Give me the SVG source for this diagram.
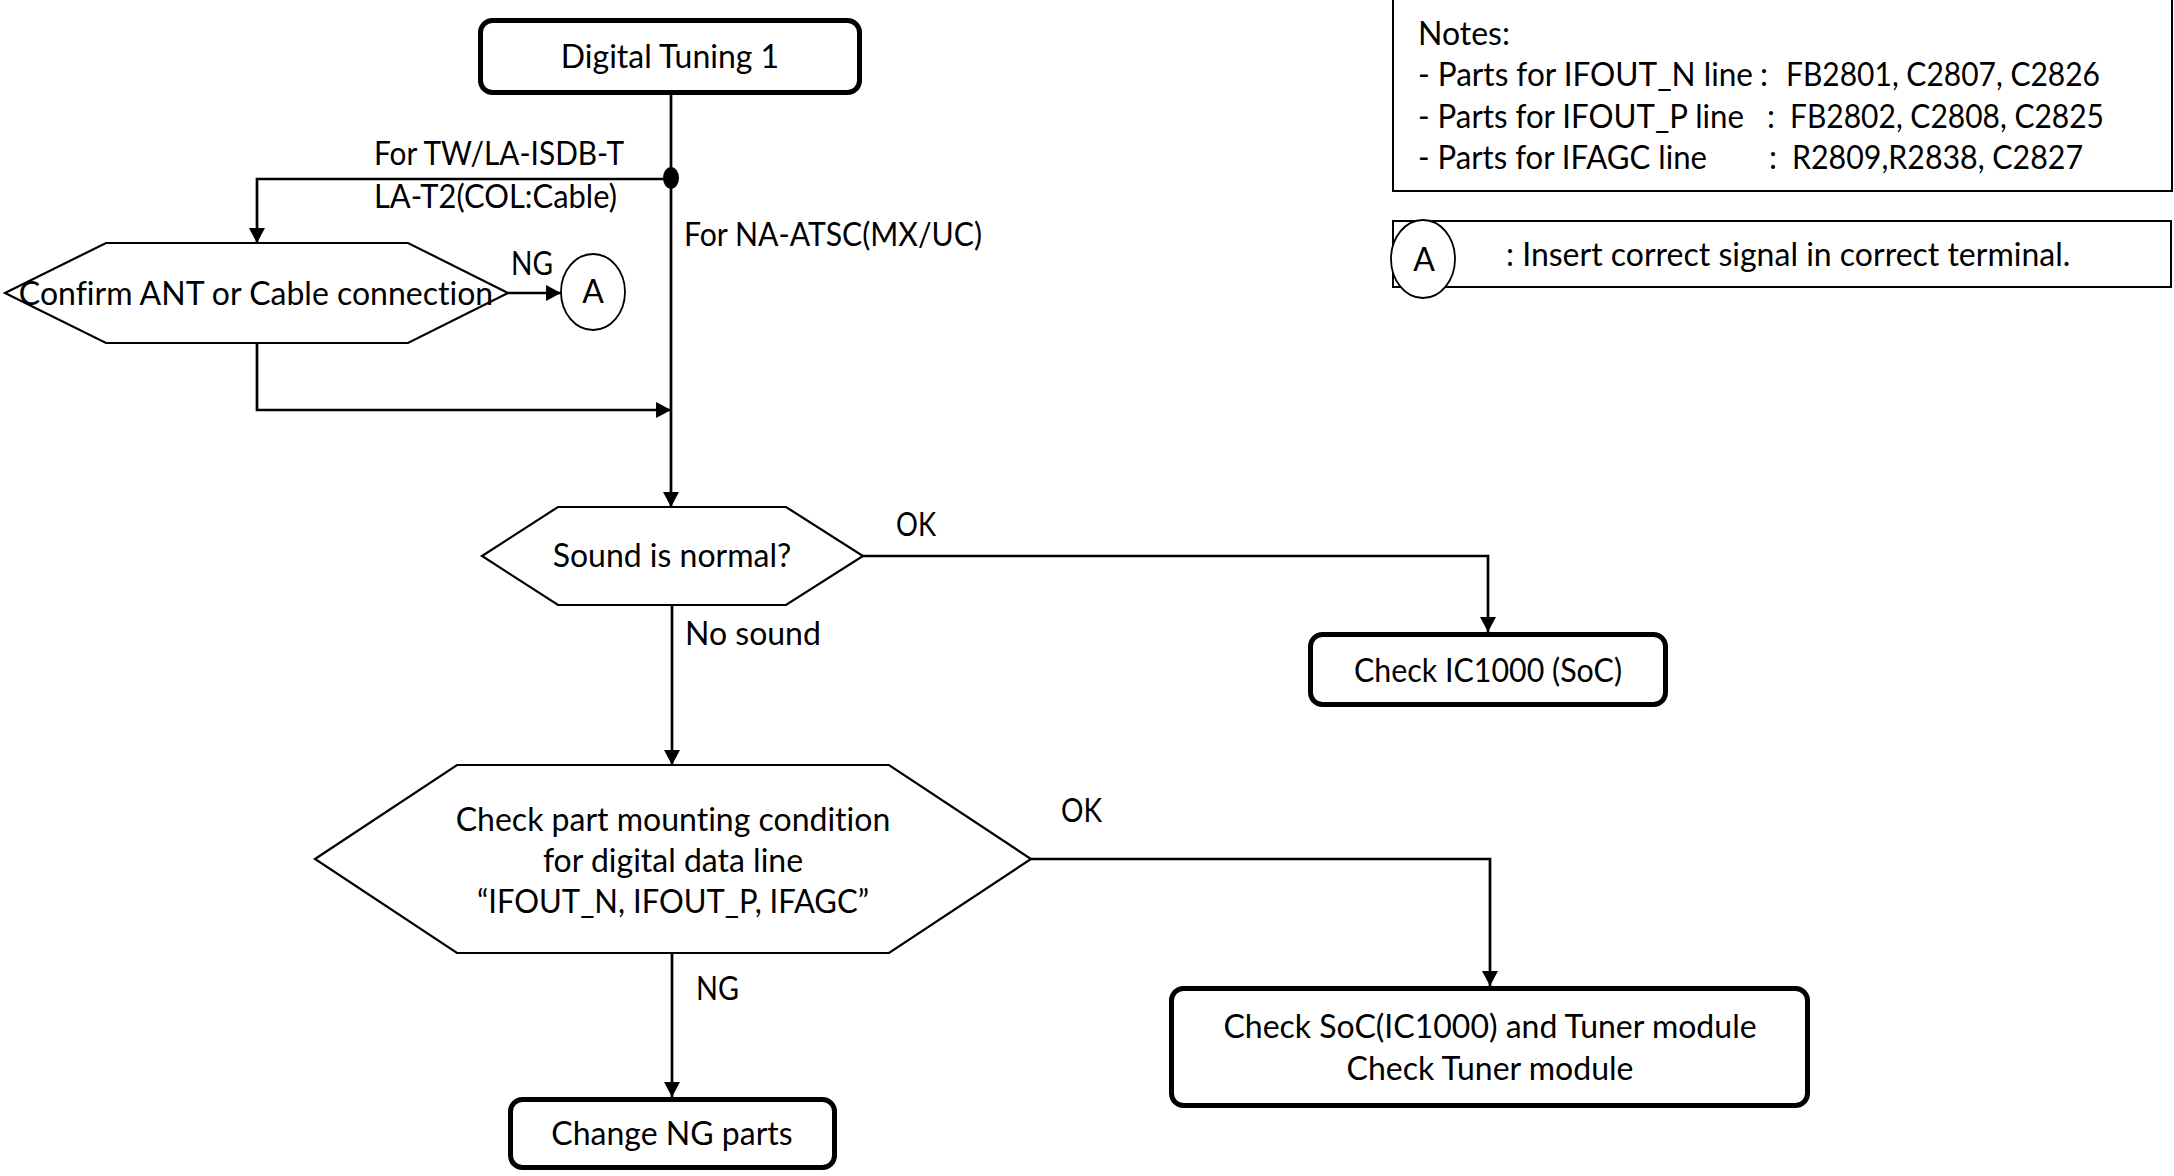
<svg xmlns="http://www.w3.org/2000/svg" width="2174" height="1176" viewBox="0 0 2174 1176">
  <defs>
    <marker id="arrow" markerUnits="userSpaceOnUse" markerWidth="16" markerHeight="16" viewBox="0 0 14 15" refX="14" refY="7.5" orient="auto">
      <path d="M0,0 L14,7.5 L0,15 Z" fill="#000"/>
    </marker>
    <style>
      text { font-family: Lato, Carlito, "Liberation Sans", sans-serif; font-size: 32px; fill: #000; font-variant-ligatures: none; }
      .c { text-anchor: middle; }
      .term { fill: #fff; stroke: #000; stroke-width: 5; }
      .hex { fill: #fff; stroke: #000; stroke-width: 2.2; stroke-linejoin: miter; }
      .conn { fill: none; stroke: #000; stroke-width: 2.7; }
      .frame { fill: #fff; stroke: #000; stroke-width: 2; }
      .ref { fill: #fff; stroke: #000; stroke-width: 1.8; }
    </style>
  </defs>
  <rect width="2174" height="1176" fill="#fff"/>

  <!-- connectors -->
  <g id="connectors">
    <path class="conn" d="M671,95 V507" marker-end="url(#arrow)"/>
    <path class="conn" d="M671,179 H257 V243" marker-end="url(#arrow)"/>
    <path class="conn" d="M257,343 V410 H671" marker-end="url(#arrow)"/>
    <path class="conn" d="M508,293 H561" marker-end="url(#arrow)"/>
    <path class="conn" d="M863,556 H1488 V632" marker-end="url(#arrow)"/>
    <path class="conn" d="M672,605 V765" marker-end="url(#arrow)"/>
    <path class="conn" d="M1031,859 H1490 V986" marker-end="url(#arrow)"/>
    <path class="conn" d="M672,953 V1097" marker-end="url(#arrow)"/>
    <ellipse cx="671" cy="178" rx="8" ry="11" fill="#000"/>
    <text x="374" y="165" textLength="250" lengthAdjust="spacingAndGlyphs">For TW/LA-ISDB-T</text>
    <text x="374" y="208" textLength="243" lengthAdjust="spacingAndGlyphs">LA-T2(COL:Cable)</text>
    <text x="684" y="246" textLength="298" lengthAdjust="spacingAndGlyphs">For NA-ATSC(MX/UC)</text>
    <text x="511" y="275" textLength="42" lengthAdjust="spacingAndGlyphs">NG</text>
    <text x="896" y="536" textLength="40" lengthAdjust="spacingAndGlyphs">OK</text>
    <text x="685" y="645">No sound</text>
    <text x="1061" y="822" textLength="41" lengthAdjust="spacingAndGlyphs">OK</text>
    <text x="696" y="1000" textLength="43" lengthAdjust="spacingAndGlyphs">NG</text>
  </g>

  <!-- start -->
  <g id="digital-tuning">
    <rect class="term" x="480.5" y="20.5" width="379" height="72" rx="12"/>
    <text class="c" x="670" y="68">Digital Tuning 1</text>
  </g>

  <!-- connection check -->
  <g id="confirm-ant">
    <polygon class="hex" points="5,293 106,243 408,243 508,293 408,343 106,343"/>
    <text class="c" x="256" y="305">Confirm ANT or Cable connection</text>
  </g>

  <g id="ref-a">
    <ellipse class="ref" cx="593" cy="292" rx="32" ry="38"/>
    <text class="c" x="593" y="303">A</text>
  </g>

  <g id="sound-normal">
    <polygon class="hex" points="482,556 558,507 786,507 863,556 786,605 558,605"/>
    <text class="c" x="672" y="567">Sound is normal?</text>
  </g>

  <g id="check-ic1000">
    <rect class="term" x="1310.5" y="634.5" width="355" height="70" rx="12"/>
    <text class="c" x="1488" y="682" textLength="268" lengthAdjust="spacingAndGlyphs">Check IC1000 (SoC)</text>
  </g>

  <g id="check-mounting">
    <polygon class="hex" points="315,859 457,765 889,765 1031,859 889,953 457,953"/>
    <text class="c" x="673" y="831">Check part mounting condition</text>
    <text class="c" x="673" y="872">for digital data line</text>
    <text class="c" x="673" y="913" textLength="392" lengthAdjust="spacingAndGlyphs">“IFOUT_N, IFOUT_P, IFAGC”</text>
  </g>

  <g id="change-ng">
    <rect class="term" x="510.5" y="1099.5" width="324" height="68" rx="12"/>
    <text class="c" x="672" y="1145">Change NG parts</text>
  </g>

  <g id="check-soc-tuner">
    <rect class="term" x="1171.5" y="988.5" width="636" height="117" rx="12"/>
    <text class="c" x="1490" y="1038">Check SoC(IC1000) and Tuner module</text>
    <text class="c" x="1490" y="1080">Check Tuner module</text>
  </g>

  <!-- notes -->
  <g id="notes">
    <rect class="frame" x="1393" y="-2" width="779" height="193"/>
    <text x="1418" y="44.5">Notes:</text>
    <text y="86"><tspan x="1418" textLength="335" lengthAdjust="spacingAndGlyphs">- Parts for IFOUT_N line</tspan><tspan x="1760">:</tspan><tspan x="1786" textLength="314" lengthAdjust="spacingAndGlyphs">FB2801, C2807, C2826</tspan></text>
    <text y="127.5"><tspan x="1418" textLength="326" lengthAdjust="spacingAndGlyphs">- Parts for IFOUT_P line</tspan><tspan x="1767">:</tspan><tspan x="1790" textLength="314" lengthAdjust="spacingAndGlyphs">FB2802, C2808, C2825</tspan></text>
    <text y="169"><tspan x="1418" textLength="289" lengthAdjust="spacingAndGlyphs">- Parts for IFAGC line</tspan><tspan x="1769">:</tspan><tspan x="1792" textLength="291" lengthAdjust="spacingAndGlyphs">R2809,R2838, C2827</tspan></text>
  </g>

  <g id="legend-a">
    <rect class="frame" x="1393" y="221" width="778" height="66"/>
    <ellipse class="ref" cx="1423" cy="259" rx="32" ry="39"/>
    <text class="c" x="1424" y="271">A</text>
    <text x="1506" y="266">: Insert correct signal in correct terminal.</text>
  </g>
</svg>
